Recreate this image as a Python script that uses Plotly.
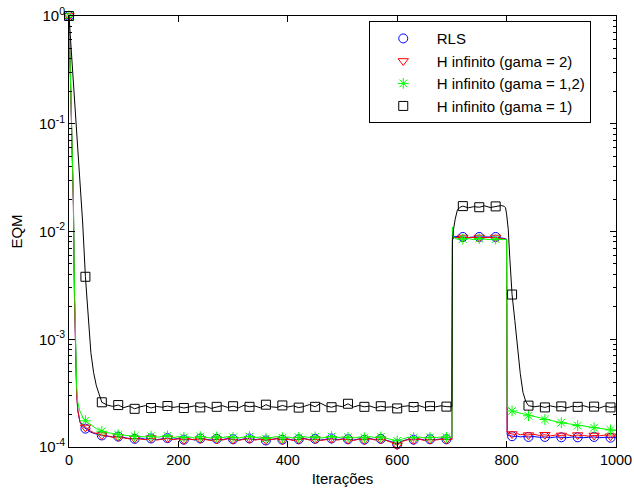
import plotly.graph_objects as go

# ---- iterations (x) ----
iters = ([0, 2, 4, 6, 8, 10, 12, 14, 16, 18, 20, 25, 30, 35, 40, 45, 50, 55, 60]
         + list(range(70, 700, 10))
         + [700, 701, 703, 706, 710, 715]
         + list(range(720, 800, 10))
         + [795, 798, 800, 801, 803, 806, 810, 815, 820, 825, 830, 835]
         + list(range(840, 1001, 10)))

# ---- EQM values ----
rls = ([1.0, 0.38, 0.14, 0.05, 0.018, 2.5e-3, 8e-4, 3.2e-4, 2.2e-4, 1.85e-4, 1.7e-4,
        1.55e-4, 1.48e-4, 1.42e-4, 1.37e-4, 1.34e-4, 1.31e-4, 1.30e-4, 1.28e-4]
       + [1.26e-4, 1.24e-4, 1.25e-4, 1.22e-4, 1.20e-4, 1.19e-4, 1.21e-4, 1.18e-4, 1.20e-4, 1.17e-4,
          1.19e-4, 1.21e-4, 1.18e-4, 1.20e-4, 1.17e-4, 1.19e-4, 1.16e-4, 1.20e-4, 1.18e-4, 1.16e-4,
          1.19e-4, 1.17e-4, 1.20e-4, 1.18e-4, 1.16e-4, 1.19e-4, 1.20e-4, 1.17e-4, 1.19e-4, 1.15e-4,
          1.18e-4, 1.20e-4, 1.17e-4, 1.19e-4, 1.16e-4, 1.18e-4, 1.20e-4, 1.17e-4, 1.19e-4, 1.16e-4,
          1.18e-4, 1.20e-4, 1.17e-4, 1.19e-4, 1.18e-4, 1.16e-4, 1.19e-4, 1.17e-4, 1.20e-4, 1.17e-4,
          1.19e-4, 1.16e-4, 1.12e-4, 1.06e-4, 1.14e-4, 1.18e-4, 1.17e-4, 1.19e-4, 1.16e-4, 1.18e-4,
          1.17e-4, 1.19e-4, 1.18e-4]
       + [1.18e-4, 8.6e-3, 8.9e-3, 9.0e-3, 8.9e-3, 8.9e-3]
       + [8.9e-3, 8.8e-3, 8.9e-3, 8.9e-3, 8.8e-3, 8.8e-3, 8.9e-3, 8.7e-3]
       + [8.7e-3, 8.6e-3, 8.5e-3, 1.30e-4, 1.28e-4, 1.27e-4, 1.26e-4, 1.25e-4, 1.26e-4, 1.24e-4, 1.25e-4, 1.24e-4]
       + [1.24e-4, 1.25e-4, 1.23e-4, 1.24e-4, 1.22e-4, 1.24e-4, 1.23e-4, 1.22e-4, 1.24e-4, 1.23e-4,
          1.22e-4, 1.23e-4, 1.24e-4, 1.22e-4, 1.23e-4, 1.22e-4, 1.23e-4])

hinf_2 = ([1.0, 0.38, 0.14, 0.05, 0.018, 2.4e-3, 7.5e-4, 3.1e-4, 2.2e-4, 1.9e-4, 1.72e-4,
           1.6e-4, 1.52e-4, 1.45e-4, 1.40e-4, 1.36e-4, 1.33e-4, 1.31e-4, 1.29e-4]
          + [1.27e-4, 1.23e-4, 1.24e-4, 1.21e-4, 1.19e-4, 1.20e-4, 1.19e-4, 1.17e-4, 1.21e-4, 1.16e-4,
             1.18e-4, 1.20e-4, 1.17e-4, 1.19e-4, 1.16e-4, 1.18e-4, 1.17e-4, 1.19e-4, 1.17e-4, 1.15e-4,
             1.18e-4, 1.16e-4, 1.19e-4, 1.17e-4, 1.15e-4, 1.18e-4, 1.19e-4, 1.16e-4, 1.18e-4, 1.16e-4,
             1.17e-4, 1.19e-4, 1.16e-4, 1.18e-4, 1.15e-4, 1.17e-4, 1.19e-4, 1.16e-4, 1.18e-4, 1.15e-4,
             1.17e-4, 1.19e-4, 1.16e-4, 1.18e-4, 1.17e-4, 1.15e-4, 1.18e-4, 1.16e-4, 1.19e-4, 1.16e-4,
             1.18e-4, 1.15e-4, 1.10e-4, 1.04e-4, 1.13e-4, 1.17e-4, 1.16e-4, 1.18e-4, 1.15e-4, 1.17e-4,
             1.16e-4, 1.18e-4, 1.17e-4]
          + [1.17e-4, 8.4e-3, 8.7e-3, 8.8e-3, 8.8e-3, 8.7e-3]
          + [8.8e-3, 8.7e-3, 8.8e-3, 8.8e-3, 8.7e-3, 8.7e-3, 8.8e-3, 8.6e-3]
          + [8.6e-3, 8.5e-3, 8.4e-3, 1.40e-4, 1.35e-4, 1.33e-4, 1.32e-4, 1.31e-4, 1.33e-4, 1.30e-4, 1.31e-4, 1.29e-4]
          + [1.29e-4, 1.31e-4, 1.28e-4, 1.30e-4, 1.27e-4, 1.29e-4, 1.28e-4, 1.30e-4, 1.27e-4, 1.29e-4,
             1.28e-4, 1.26e-4, 1.28e-4, 1.27e-4, 1.29e-4, 1.26e-4, 1.27e-4])

hinf_12 = ([1.0, 0.38, 0.14, 0.054, 0.02, 3.2e-3, 1.0e-3, 3.6e-4, 2.6e-4, 2.3e-4, 2.15e-4,
            1.9e-4, 1.75e-4, 1.68e-4, 1.60e-4, 1.53e-4, 1.48e-4, 1.44e-4, 1.40e-4]
           + [1.36e-4, 1.33e-4, 1.30e-4, 1.29e-4, 1.27e-4, 1.26e-4, 1.27e-4, 1.24e-4, 1.26e-4, 1.23e-4,
              1.25e-4, 1.27e-4, 1.22e-4, 1.25e-4, 1.23e-4, 1.24e-4, 1.21e-4, 1.25e-4, 1.23e-4, 1.21e-4,
              1.24e-4, 1.22e-4, 1.25e-4, 1.23e-4, 1.21e-4, 1.24e-4, 1.25e-4, 1.22e-4, 1.24e-4, 1.20e-4,
              1.23e-4, 1.25e-4, 1.22e-4, 1.24e-4, 1.21e-4, 1.23e-4, 1.25e-4, 1.22e-4, 1.24e-4, 1.21e-4,
              1.23e-4, 1.25e-4, 1.22e-4, 1.24e-4, 1.23e-4, 1.21e-4, 1.24e-4, 1.22e-4, 1.25e-4, 1.22e-4,
              1.24e-4, 1.21e-4, 1.18e-4, 1.14e-4, 1.19e-4, 1.23e-4, 1.22e-4, 1.24e-4, 1.21e-4, 1.23e-4,
              1.22e-4, 1.24e-4, 1.23e-4]
           + [1.22e-4, 1.1e-2, 9.0e-3, 8.6e-3, 8.5e-3, 8.6e-3]
           + [8.5e-3, 8.6e-3, 8.4e-3, 8.6e-3, 8.5e-3, 8.4e-3, 8.5e-3, 8.4e-3]
           + [8.4e-3, 8.5e-3, 8.4e-3, 2.35e-4, 2.30e-4, 2.22e-4, 2.16e-4, 2.12e-4, 2.09e-4, 2.05e-4, 2.01e-4, 1.98e-4]
           + [1.95e-4, 1.90e-4, 1.85e-4, 1.80e-4, 1.76e-4, 1.72e-4, 1.68e-4, 1.65e-4, 1.62e-4, 1.58e-4,
              1.56e-4, 1.53e-4, 1.51e-4, 1.48e-4, 1.46e-4, 1.44e-4, 1.42e-4])

hinf_1 = ([1.0, 0.71, 0.5, 0.35, 0.25, 0.17, 0.12, 0.085, 0.06, 0.042, 0.03,
           0.012, 3.8e-3, 1.7e-3, 7.5e-4, 4.9e-4, 3.7e-4, 3.1e-4, 2.6e-4]
          + [2.45e-4, 2.38e-4, 2.45e-4, 2.32e-4, 2.40e-4, 2.26e-4, 2.36e-4, 2.42e-4, 2.30e-4, 2.38e-4,
             2.34e-4, 2.40e-4, 2.33e-4, 2.37e-4, 2.30e-4, 2.36e-4, 2.41e-4, 2.33e-4, 2.38e-4, 2.28e-4,
             2.36e-4, 2.42e-4, 2.33e-4, 2.39e-4, 2.31e-4, 2.44e-4, 2.36e-4, 2.40e-4, 2.31e-4, 2.47e-4,
             2.36e-4, 2.33e-4, 2.43e-4, 2.35e-4, 2.41e-4, 2.32e-4, 2.38e-4, 2.48e-4, 2.36e-4, 2.55e-4,
             2.40e-4, 2.34e-4, 2.42e-4, 2.37e-4, 2.52e-4, 2.35e-4, 2.43e-4, 2.36e-4, 2.40e-4, 2.31e-4,
             2.39e-4, 2.34e-4, 2.36e-4, 2.28e-4, 2.38e-4, 2.41e-4, 2.35e-4, 2.42e-4, 2.33e-4, 2.39e-4,
             2.36e-4, 2.41e-4, 2.37e-4]
          + [2.36e-4, 8.0e-3, 1.05e-2, 1.3e-2, 1.58e-2, 1.68e-2]
          + [1.72e-2, 1.66e-2, 1.70e-2, 1.68e-2, 1.73e-2, 1.67e-2, 1.71e-2, 1.74e-2]
          + [1.72e-2, 1.66e-2, 1.45e-2, 1.30e-2, 1.05e-2, 5.5e-3, 2.6e-3, 1.5e-3, 8.5e-4, 4.8e-4, 3.2e-4, 2.65e-4]
          + [2.42e-4, 2.36e-4, 2.40e-4, 2.33e-4, 2.41e-4, 2.35e-4, 2.38e-4, 2.31e-4, 2.39e-4, 2.36e-4,
             2.42e-4, 2.34e-4, 2.37e-4, 2.30e-4, 2.40e-4, 2.33e-4, 2.36e-4])

names = ["RLS", "H infinito (gama = 2)", "H infinito (gama = 1,2)", "H infinito (gama = 1)"]
x_ticks = [0, 200, 400, 600, 800, 1000]
y_ticks = [1e-4, 1e-3, 1e-2, 1e-1, 1e0]
y_tick_text = ["10<sup>-4</sup>", "10<sup>-3</sup>", "10<sup>-2</sup>", "10<sup>-1</sup>", "10<sup>0</sup>"]

colors = ["#0000ff", "#ff0000", "#00ff00", "#000000"]
symbols = ["circle-open", "triangle-down-open", "asterisk-open", "square-open"]
marker_step = 30

fig = go.Figure()
for name, ys, col, sym in zip(names, [rls, hinf_2, hinf_12, hinf_1], colors, symbols):
    fig.add_trace(go.Scatter(x=iters, y=ys, mode="lines", line=dict(color=col, width=1),
                             showlegend=False, hoverinfo="skip"))
    mx = [x for x in iters if x % marker_step == 0]
    my = [y for x, y in zip(iters, ys) if x % marker_step == 0]
    fig.add_trace(go.Scatter(x=mx, y=my, mode="markers", name=name, cliponaxis=False,
                             marker=dict(symbol=sym, size=9, color=col,
                                         line=dict(color=col, width=1))))

font_family = "Liberation Sans, Arial, Helvetica, sans-serif"
fig.update_layout(
    width=634, height=493,
    margin=dict(l=69, r=18, t=16, b=46, autoexpand=False),
    paper_bgcolor="white", plot_bgcolor="white",
    font=dict(family=font_family, size=14, color="black"),
    legend=dict(x=0.548, y=0.988, xanchor="left", yanchor="top", bgcolor="white",
                bordercolor="black", borderwidth=1, font=dict(size=15), itemwidth=57,
                tracegroupgap=0),
)
fig.update_xaxes(range=[0, 1000], tickmode="array", tickvals=x_ticks, ticks="inside", ticklen=6,
                 tickcolor="black", showline=True, linecolor="black", linewidth=1, mirror="ticks",
                 showgrid=False, zeroline=False, automargin=False, ticklabeloverflow="allow",
                 tickfont=dict(size=14.5),
                 title=dict(text="Iterações", standoff=6, font=dict(size=15)))
minor_vals = [m * 10.0 ** e for e in range(-4, 0) for m in range(2, 10)]
fig.update_yaxes(type="log", range=[-4, 0], tickmode="array", tickvals=y_ticks, ticktext=y_tick_text,
                 ticks="inside", ticklen=6, tickcolor="black", showline=True, linecolor="black",
                 linewidth=1, mirror="ticks", showgrid=False, zeroline=False, automargin=False,
                 ticklabeloverflow="allow", tickfont=dict(size=15),
                 minor=dict(tickmode="array", tickvals=minor_vals, ticks="inside", ticklen=3,
                            tickcolor="black", showgrid=False),
                 title=dict(text="EQM", standoff=12, font=dict(size=15)))

# remove the page's default 8px body margin so the figure fills the window exactly
fig.write_html("out.html", config={"displayModeBar": False},
               post_script="document.body.style.margin='0';document.body.style.overflow='hidden';")
